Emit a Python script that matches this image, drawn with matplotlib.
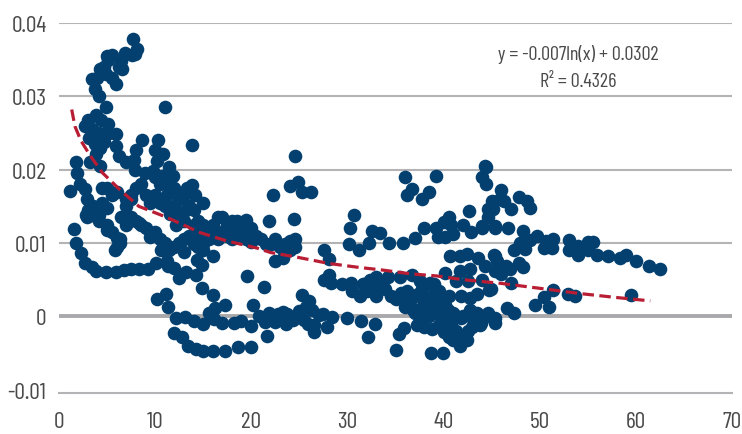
import matplotlib
matplotlib.use('Agg')
import matplotlib.pyplot as plt

# values, (x, y), grouped by region
top_arm = [(7.67, .0378), (8.15, .0365), (7.9, .0358), (7.56, .0357), (6.87, .0359), (6.5, .0348), (6.2, .034),
           (5.48, .0357), (5.13, .0349), (5.0, .0355), (6.52, .0337), (4.27, .0337), (4.7, .034), (3.4, .0323),
           (4.0, .0325), (4.9, .033), (5.5, .0325), (5.93, .0317), (3.75, .031), (4.2, .0301), (4.89, .0285)]
upper_left = [(3.05, .0268), (3.9, .0275), (2.7, .0259), (5.1, .0262), (4.4, .0268), (3.4, .0255), (4.2, .025),
              (5.0, .0248), (5.9, .0249), (3.1, .0243), (4.7, .0238), (4.27, .023), (3.7, .0235), (5.93, .0232),
              (3.22, .021), (1.74, .021), (1.84, .0195), (2.2, .018), (2.7, .0173), (1.15, .0171), (2.9, .016),
              (3.5, .015), (2.8, .0138), (4.2, .0138), (3.9, .0222), (4.3, .0205), (8.6, .0241), (10.3, .0241),
              (8.0, .0227), (10.0, .0227), (10.8, .0222), (10.2, .0212), (6.2, .0218), (7.0, .021), (7.8, .0213),
              (7.9, .0199), (8.9, .0195), (9.8, .0198), (11.4, .0203), (10.7, .0192), (11.9, .0192), (13.3, .0175),
              (13.8, .0179), (14.1, .0165), (15.0, .0155), (11.06, .0286), (13.8, .0234), (22.3, .0165)]
band_left = [(5, .0175), (5.5, .0165), (6, .017), (7, .016), (7.5, .0165), (8, .0175), (8.5, .018), (9, .0165),
             (9.5, .0155), (10, .019), (10.5, .018), (11, .0185), (11.5, .0175), (12, .0175), (12.5, .016),
             (13, .0165), (13.5, .015), (14, .0145), (10, .0165), (10.5, .0155), (11, .015), (11.5, .014),
             (12, .015), (12.5, .014), (13, .013), (14, .0125), (14.5, .013), (15, .0125), (15.5, .012),
             (16, .0125), (16.5, .0135), (17, .0135), (18, .013), (18.5, .013), (19, .0125), (19.5, .0132),
             (20, .012), (20.5, .011), (21, .0105), (22, .0098), (23, .0095), (23.5, .0098), (24, .0103),
             (24.5, .0105), (17, .0115), (17.5, .011), (18, .0105), (18.5, .0115), (19, .011), (19.5, .0105),
             (20, .0102), (21.5, .0098), (22.5, .0075), (23.3, .008), (24, .009), (24.5, .0095), (22.5, .0105),
             (5, .0125), (5.5, .0115), (6, .0095), (6.3, .0105), (7, .0125), (7.5, .0135), (8, .013), (8.5, .0125),
             (9, .012), (9.5, .0108), (10, .0115), (10.5, .0105), (11, .01), (11.5, .0095), (12, .0095), (12.5, .01),
             (13, .0105), (13.5, .011), (14, .0108), (14.5, .0095), (15, .0098), (16, .011), (16.5, .0105),
             (6.5, .0135), (7, .015), (7.5, .016), (3, .0145), (3.5, .0138), (4, .0145), (4.5, .0155), (4.5, .0175),
             (5, .0148), (2.9, .0135), (4.2, .013), (5.0, .0118), (7.2, .0128), (8.3, .0127),
             (11.2, .0165), (12.2, .0125), (13.2, .0145), (14.7, .0115), (15.6, .0105), (17.5, .0125), (18.7, .0122)]
lower_curve = [(1.56, .0119), (1.73, .01), (2.26, .0086), (2.7, .0073), (3.4, .0067), (3.9, .0062), (4.9, .006),
               (5.9, .006), (6.8, .0063), (7.5, .0065), (8.3, .0065), (9.3, .0065), (10.1, .0073), (11.2, .0076),
               (11.3, .0069), (12, .0066), (12.5, .0052), (13.2, .006), (14.2, .0057), (14.9, .007), (14.4, .0077),
               (16, .0082), (15, .0091), (14, .0098), (13, .0088), (11.4, .0091), (10.6, .009), (5.8, .0091),
               (6.3, .01), (6, .0107), (19.56, .0055), (21.3, .004), (20.2, .0015), (21.6, -.0027), (21.4, -.0008)]
zero_band = [(11.1, .003), (10.2, .0024), (11.3, .0013), (14.85, .0038), (16, .0029), (17.3, .0015), (16.2, .0011),
             (15.6, .0005), (12.2, -.0002), (13.1, -.0001), (14, -.0006), (15, -.001), (16.1, -.0004), (17, -.0009),
             (18.2, -.0009), (18.9, -.0006), (20, -.0013), (12, -.0023), (12.8, -.0028), (13.4, -.004),
             (14.3, -.0044), (15, -.0047), (16, -.0047), (17.3, -.0047), (18.6, -.0042), (20, -.0042)]
mid_left = [(24.56, .0219), (24.9, .0183), (24, .0178), (25.25, .017), (26.2, .017), (24.4, .0133), (21.8, .013),
            (22.6, 0), (22.5, -.0008), (22.8, .0003), (23.3, .0006), (23.7, .0003), (23, -.0003), (24.3, -.0005),
            (25, .0007), (25.3, .0029), (26, .0021), (25.7, .0012), (26.3, .0008), (27, .0002), (25.5, -.0005),
            (25.9, -.001), (26.5, -.0012), (27.5, .0003), (28.4, -.0001), (27.9, -.0014), (26.5, -.0021),
            (23.6, -.0011), (24.7, -.0001), (20.8, 0), (21.8, .0005), (30, -.0003), (31.4, -.0007), (32.9, -.001),
            (32.1, -.0028)]
mid_upper = [(30.7, .0138), (30.3, .012), (32.6, .0117), (33.4, .0113), (30.2, .0098), (31.2, .009), (32.2, .01),
             (34.3, .01), (35.8, .01), (37, .0107), (38, .012), (39.2, .012), (39.4, .0108), (40.2, .0108),
             (41, .0112), (40, .0128), (40.6, .0135), (40.8, .0124), (42, .0124), (42.9, .0115), (44, .012),
             (45.3, .012), (42.6, .0143), (44.6, .0135), (45.1, .0147), (45.9, .016), (36, .019), (36.7, .0173),
             (36.2, .0165), (37.8, .016), (38.5, .017), (39.2, .0192), (44.4, .0204), (44, .019), (44.4, .018)]
mid_line = [(27.6, .009), (28.1, .0078), (28.1, .0056), (27.6, .005), (28.3, .0046), (29.4, .0044), (30.4, .0046),
            (31.7, .0044), (33, .0053), (34.2, .0053), (35.5, .0053), (36.7, .0056), (32.3, .005), (33.5, .0047),
            (30.5, .0034), (31.3, .0027), (32, .0034), (33, .0028), (33.9, .0037), (35, .0024), (35.6, .0032),
            (36.2, .0035), (34.5, .0028), (32.6, .0038), (33.3, .0042), (31.6, .0044), (36.7, .0025), (37.3, .003),
            (36.3, .0022), (37.8, .0037), (38.6, .0045), (37.5, .0048), (39, .0044)]
blob = [(36, .0012), (36.8, .0009), (37.5, .001), (38, .0018), (38.5, .0024), (39, .003), (39.5, .0035),
        (38.8, .0012), (39.3, .0018), (39.8, .0024), (40.2, .0015), (40.5, .0008), (40, 0), (39.3, .0005),
        (38.5, 0), (37.8, -.0005), (37.2, -.0012), (38, -.0014), (38.8, -.0018), (39.5, -.0012), (40, -.0022),
        (40.6, -.0028), (41, -.0032), (41.7, -.0041), (42.4, -.0032), (41.8, -.0028), (41.3, -.002), (40.8, -.001),
        (41.3, 0), (42, 0), (42.7, 0), (43.5, -.0005), (43.8, -.0012), (43, -.0015), (42.5, -.002), (41, .0005),
        (37, .0004), (38.7, -.005), (39.9, -.005), (35.1, -.0046), (35.4, -.0024), (35.9, -.0016)]
right_mid = [(40.7, .0082), (41.7, .0082), (42.4, .0085), (43.6, .008), (45.3, .0082), (41.7, .0062), (42.7, .0064),
             (44.3, .0069), (45.3, .0062), (40.1, .0059), (44, .0049), (44.7, .0036), (43.5, .003), (42.7, .0025),
             (41.8, .0028), (40.6, .0028), (42.5, .0048), (41.3, .0048), (44.7, 0), (45.3, -.0009), (43.5, .0004),
             (42.7, .0008), (41.8, -.0002), (44.6, .0005), (46.6, .0011), (47.3, .0004), (45.4, -.0003), (43.9, -.0009)]
right_tail = [(44.3, .0205), (46, .0172), (45, .0157), (44.6, .0146), (46.3, .0157), (47, .0147), (47.8, .0163),
              (48.7, .0157), (49, .0148), (44, .0123), (45.3, .0123), (46.7, .0121), (48.3, .0116), (49.7, .0109),
              (47.9, .01), (47.3, .0091), (48.5, .0092), (49, .0104), (50.4, .0093), (51.3, .0093), (51.4, .0105),
              (50.7, .0103), (53, .0104), (53, .0091), (54, .0096), (54, .0084), (55, .0101), (55.5, .0101), (55, .0091),
              (56, .0084), (57.1, .0082), (58.4, .0079), (59, .0084), (60, .0075), (61.4, .0068), (62.5, .0064),
              (59.5, .0029), (53.7, .0028), (52.9, .0031), (51.4, .0036), (50.4, .0026), (49.5, .0015), (51, .0012),
              (48.3, .0067), (47.8, .0073), (46.9, .0064), (45.2, .0084), (46, .0058), (47, .0046), (44.9, .0037),
              (46.5, .0068), (45.6, .0075)]

# dashed trend
trend_x = [1.32, 1.66, 2.3, 3.3, 4.5, 6.3, 8.3, 11.2, 14.7, 17.4, 20.6, 22, 25, 28.1, 31, 33.7, 36.5, 39.3, 42, 45.9,
           50.7, 54.2, 57.7, 61.5]
trend_y = [.0282, .0259, .0239, .0218, .0196, .0173, .015, .0135, .0114, .0103, .0093, .0087, .008, .0072, .0067,
           .0063, .0058, .0055, .005, .0045, .0037, .0031, .0026, .0021]

x_ticks = [0, 10, 20, 30, 40, 50, 60, 70]
y_ticks = [-0.01, 0, 0.01, 0.02, 0.03, 0.04]
y_labels = ['-0.01', '0', '0.01', '0.02', '0.03', '0.04']

plt.rcParams['font.family'] = ['Barlow Condensed', 'Liberation Sans', 'DejaVu Sans']

fig = plt.figure(figsize=(7.42, 4.35), dpi=100)
ax = fig.add_axes([59 / 742, 1 - 393.7 / 435, (732 - 59) / 742, (393.7 - 24) / 435])

groups = [top_arm, upper_left, band_left, lower_curve, zero_band, mid_left, mid_upper, mid_line, blob, right_mid, right_tail]
for group in groups:
    xs = [p[0] for p in group]
    ys = [p[1] for p in group]
    ax.scatter(xs, ys, s=96, color='#03406f', linewidths=0, zorder=3, clip_on=False)

ax.plot(trend_x, trend_y, color='#b81d34', linewidth=2.3, linestyle=(0, (3.6, 1.7)), zorder=4)

ax.set_xlim(0, 70)
ax.set_ylim(-0.01042, 0.04)
ax.set_xticks(x_ticks)
ax.set_xticklabels([str(t) for t in x_ticks])
ax.set_yticks(y_ticks)
ax.set_yticklabels(y_labels)

for v in y_ticks[2:]:
    ax.axhline(v, color='#b4b4b6', linewidth=1.5, zorder=1)
ax.axhline(0, color='#a9a9ab', linewidth=2.8, zorder=1)

for side in ['top', 'right', 'left']:
    ax.spines[side].set_visible(False)
ax.spines['bottom'].set_color('#b4b4b6')
ax.spines['bottom'].set_linewidth(1.5)
ax.tick_params(length=0, labelsize=17, labelcolor='#4a4a4a')
ax.tick_params(axis='y', pad=9)
ax.tick_params(axis='x', pad=13)

ax.text(578, 435 - 55, 'y = -0.007ln(x) + 0.0302', transform=None, ha='center', va='center', fontsize=14.5, color='#4a4a4a')
ax.text(578, 435 - 82, 'R² = 0.4326', transform=None, ha='center', va='center', fontsize=14.5, color='#4a4a4a')

fig.savefig('out.png', dpi=100)
